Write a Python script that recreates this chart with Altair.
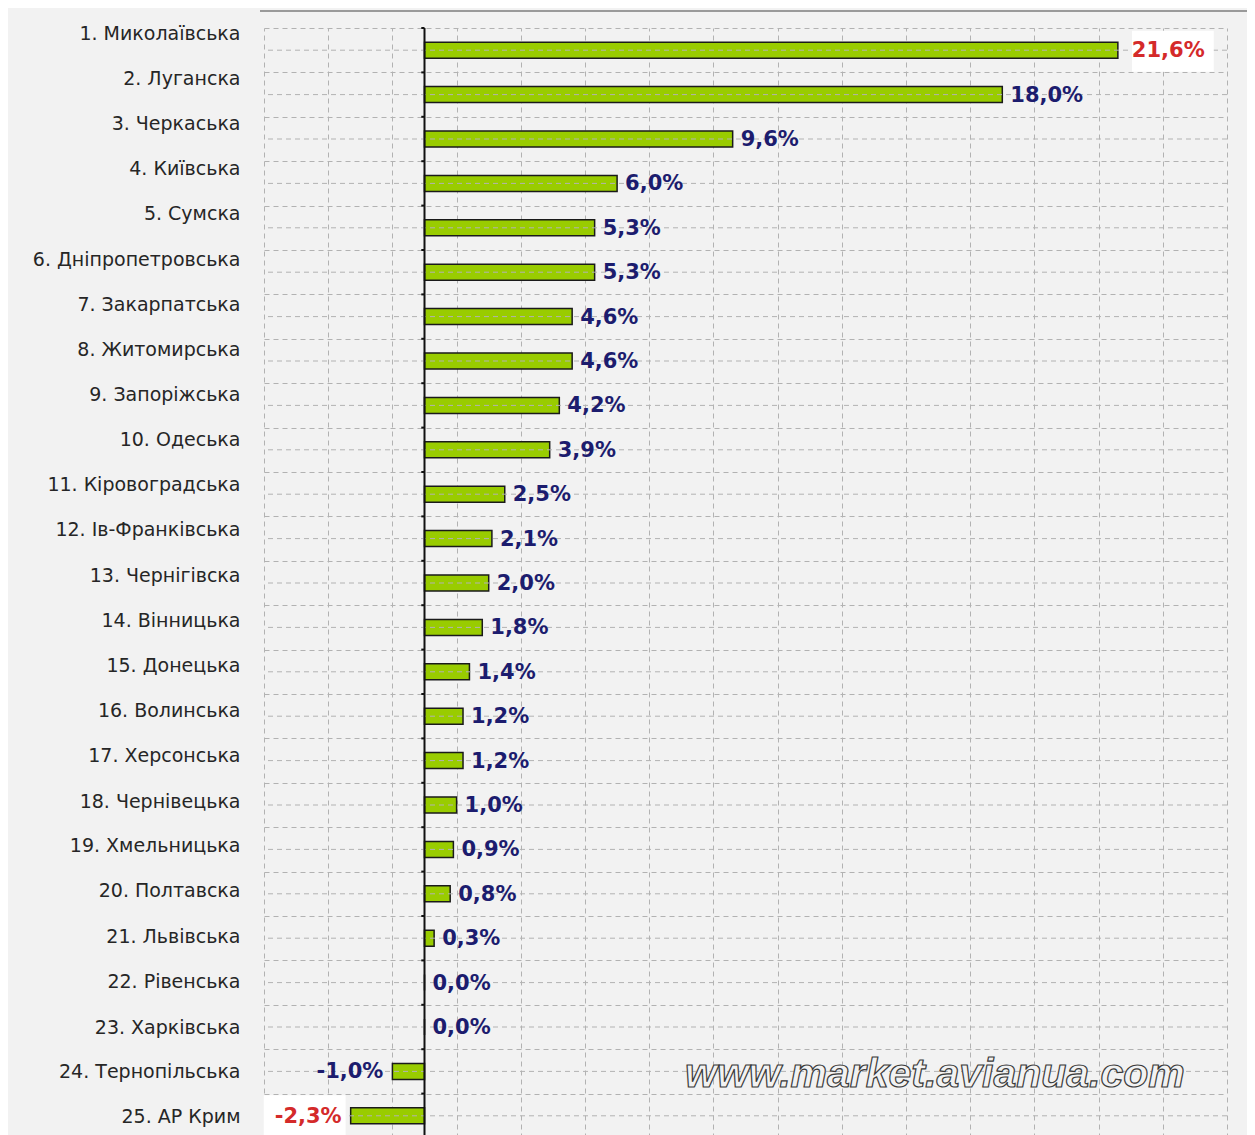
import altair as alt
import pandas as pd

regions = ["1. Миколаївська", "2. Луганска", "3. Черкаська", "4. Київська", "5. Сумска",
           "6. Дніпропетровська", "7. Закарпатська", "8. Житомирська", "9. Запоріжська",
           "10. Одеська", "11. Кіровоградська", "12. Ів-Франківська", "13. Чернігівска",
           "14. Вінницька", "15. Донецька", "16. Волинська", "17. Херсонська",
           "18. Чернівецька", "19. Хмельницька", "20. Полтавска", "21. Львівська",
           "22. Рівенська", "23. Харківська", "24. Тернопільська", "25. АР Крим"]
values = [21.6, 18.0, 9.6, 6.0, 5.3, 5.3, 4.6, 4.6, 4.2, 3.9, 2.5, 2.1, 2.0, 1.8, 1.4,
          1.2, 1.2, 1.0, 0.9, 0.8, 0.3, 0.0, 0.0, -1.0, -2.3]
highlighted = ["1. Миколаївська", "25. АР Крим"]
x_ticks = list(range(-5, 26))
watermark = "www.market.avianua.com"

df = pd.DataFrame({"region": regions, "value": values})
df["hl"] = df["region"].isin(highlighted)

GRID = "#b2b2b2"
DASH = [5, 4]

xscale = alt.Scale(domain=[-5, 25], nice=False, zero=False)
yscale = alt.Scale(domain=regions, paddingInner=0, paddingOuter=0)
xaxis = alt.Axis(values=x_ticks, grid=True, gridDash=DASH, gridColor=GRID,
                 gridWidth=1, labels=False, ticks=False, domain=False, title=None)

# the source's row labels drift slightly against the bars (from ~17px above to ~1px below)
n = len(regions)
offset_steps = [{"test": f"datum.index < {(k + 0.5) / (n - 1):.4f}",
                 "value": round(-17 + 18 * k / (n - 1))} for k in range(n - 1)]
label_offset = {"condition": offset_steps, "value": 1}

yaxis = alt.Axis(title=None, tickBand="extent", grid=True, gridDash=DASH,
                 gridColor=GRID, gridWidth=1, ticks=False, domain=False,
                 labelFont="DejaVu Sans", labelFontSize=19, labelColor="#262626",
                 labelPadding=24, labelOffset=label_offset, labelLimit=300)


def Y(**kw):
    return alt.Y("region:N", scale=yscale, sort=regions, axis=yaxis, **kw)


def X(field="value:Q"):
    return alt.X(field, scale=xscale, axis=xaxis)


base = alt.Chart(df)

center_grid = base.mark_rule(color=GRID, strokeDash=DASH, strokeWidth=1).encode(y=Y())

bars = base.mark_bar(color="#99cc00", stroke="#1a1a1a", strokeWidth=1.5, size=16).encode(
    x=X(), y=Y(),
)

zero_line = alt.Chart(pd.DataFrame({"z": [0]})).mark_rule(color="#111111", strokeWidth=2).encode(
    x=X("z:Q"),
)

zero_ticks = base.mark_rule(color="#111111", strokeWidth=2).encode(
    y=Y(bandPosition=0),
    x=alt.datum(-0.1),
    x2=alt.datum(0),
)

top_line = alt.Chart(pd.DataFrame({"a": [0]})).mark_rule(color="#9a9a9a", strokeWidth=2).encode(
    x=alt.value(-4), x2=alt.value(1000), y=alt.value(-17),
)

box_path = "M-1,-0.5H1V0.5H-1Z"
hl_pos = base.transform_filter("datum.hl && datum.value > 0").mark_point(
    shape=box_path, size=6700, filled=True, color="#ffffff", opacity=1, xOffset=55, yOffset=1
).encode(x=X(), y=Y())
hl_neg = base.transform_filter("datum.hl && datum.value < 0").mark_point(
    shape=box_path, size=6700, filled=True, color="#ffffff", opacity=1, xOffset=-46, yOffset=0
).encode(x=X(), y=Y())

label_color = alt.condition("datum.hl", alt.value("#d42a2a"), alt.value("#1c1c6e"))
lab_base = base.transform_calculate(
    lab="(datum.value < 0 ? '-' : '') + replace(format(abs(datum.value), '.1f'), '.', ',') + '%'"
)
text_kw = dict(baseline="middle", dy=1, font="DejaVu Sans", fontWeight="bold", fontSize=21)
labels_pos = lab_base.transform_filter("datum.value >= 0 && !datum.hl").mark_text(
    align="left", dx=8, **text_kw
).encode(x=X(), y=Y(), text="lab:N", color=label_color)
labels_hl = lab_base.transform_filter("datum.value >= 0 && datum.hl").mark_text(
    align="left", dx=14, **text_kw
).encode(x=X(), y=Y(), text="lab:N", color=label_color)
labels_neg = lab_base.transform_filter("datum.value < 0").mark_text(
    align="right", dx=-9, **text_kw
).encode(x=X(), y=Y(), text="lab:N", color=label_color)

wm = alt.Chart(pd.DataFrame({"t": [watermark]})).mark_text(
    font="Liberation Sans", fontStyle="italic", fontWeight="bold", fontSize=41,
    fill="#f2f2f2", stroke="#3a3a3a", strokeWidth=1.2, align="center", baseline="middle", dy=4
).encode(
    x=alt.datum(15.9),
    y=alt.datum("24. Тернопільська"),
    text="t:N",
)

chart = alt.layer(
    bars, center_grid, zero_ticks, zero_line, top_line, hl_pos, hl_neg,
    labels_pos, labels_hl, labels_neg, wm
).properties(
    width=963, height=1110,
    autosize=alt.AutoSizeParams(type="none"),
    padding={"left": 256, "top": 20, "right": 20, "bottom": 0},
    background="#f2f2f2",
).configure_view(strokeWidth=0)

chart.save("out.html", embed_options={"renderer": "svg", "actions": False})
